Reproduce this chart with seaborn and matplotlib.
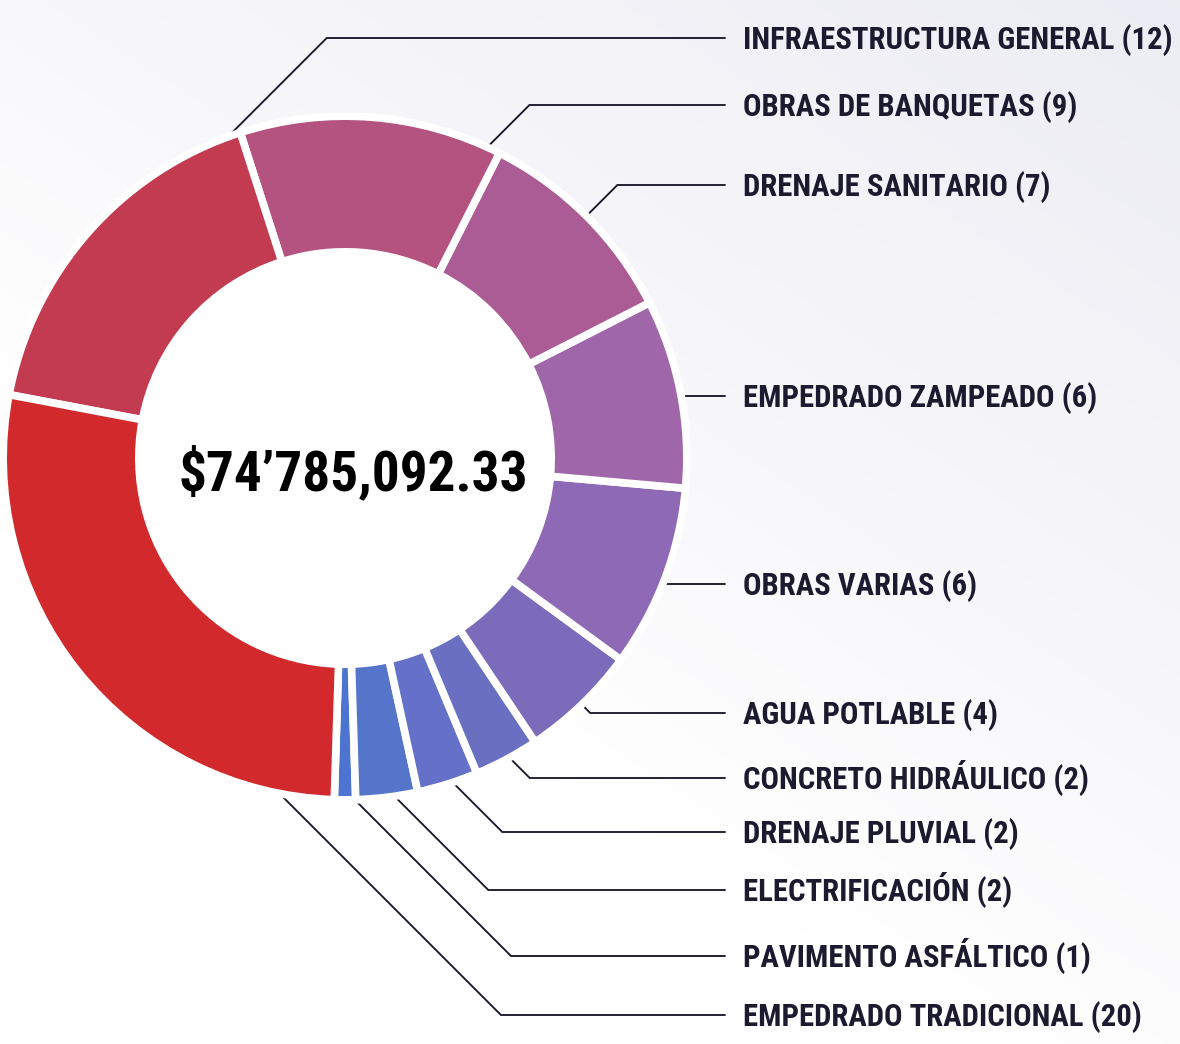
import numpy as np
import matplotlib
matplotlib.use("Agg")
import matplotlib.pyplot as plt
from matplotlib.colors import LinearSegmentedColormap
import seaborn as sns

# ---------------- data ----------------
categories = ["PAVIMENTO ASFÁLTICO", "ELECTRIFICACIÓN", "DRENAJE PLUVIAL",
              "CONCRETO HIDRÁULICO", "AGUA POTLABLE", "OBRAS VARIAS",
              "EMPEDRADO ZAMPEADO", "DRENAJE SANITARIO", "OBRAS DE BANQUETAS",
              "INFRAESTRUCTURA GENERAL", "EMPEDRADO TRADICIONAL"]
obras = [1, 2, 2, 2, 4, 6, 6, 7, 9, 12, 20]
share_pct = [1.0, 2.92, 2.89, 3.08, 5.56, 8.64, 8.92, 10.03, 12.42, 17.08, 27.47]
slice_colors = ["#4d74d0", "#5475c9", "#6570c8", "#6a6fc2", "#7a6bbb", "#8e69b5",
                "#a066aa", "#ac5c95", "#b45280", "#c33b50", "#d2292c"]
total_label = "$74\u2019785,092.33"

# ---------------- layout / style ----------------
W, H = 1180, 1044
sns.set_style("white")
FAMILY = ["Roboto Condensed", "Open Sans Condensed", "Liberation Sans Narrow",
          "DejaVu Sans Condensed", "DejaVu Sans"]
plt.rcParams["font.family"] = FAMILY
TXT = "#1b1a2e"

cx, cy = 345, H - 458
R_out, R_in = 338, 210
gap_pt = 5.5
hg = gap_pt * 100 / 72 / 2
start_deg = -91.8
anchor_frac = [0.5, 0.5, 0.5, 0.5, 0.5, 0.5, 0.5, 0.5, 0.065, 0.1, 0.88]
label_y_px = [956, 890, 832, 778, 713, 584, 396, 185, 105, 38, 1015]
line_end_x = 725
text_x = 743

fig = plt.figure(figsize=(W / 100, H / 100), dpi=100)
ax = fig.add_axes([0, 0, 1, 1])

# faint background wash (light lavender toward the lower right)
gx, gy = np.meshgrid(np.linspace(0, 1, 200), np.linspace(0, 1, 200))
wash = np.clip(0.55 * gx + 0.75 * gy - 0.45, 0, 1)
bg_cmap = LinearSegmentedColormap.from_list("bg", ["#ffffff", "#e9e9f2"])
ax.imshow(wash, cmap=bg_cmap, extent=(0, W, H, 0), origin="upper",
          aspect="auto", zorder=0, vmin=0, vmax=1, interpolation="bilinear")

wedges, _ = ax.pie(share_pct, colors=slice_colors, startangle=start_deg,
                   counterclock=True, radius=R_out + hg, center=(cx, cy),
                   wedgeprops=dict(width=R_out - R_in + 2 * hg,
                                   edgecolor="white", linewidth=gap_pt, zorder=2))
# white centre
ax.add_patch(plt.Circle((cx, cy), R_in, color="white", zorder=1.5))
ax.set_xlim(0, W)
ax.set_ylim(0, H)
ax.set_aspect("equal")
ax.axis("off")

fig.canvas.draw()
renderer = fig.canvas.get_renderer()

# fit label font size to reference width of the longest label
probe = ax.text(0, 0, "INFRAESTRUCTURA GENERAL (12)", fontsize=40, fontweight="bold")
wpx = probe.get_window_extent(renderer).width
probe.remove()
fs = 40 * 429 / wpx

for w, cat, n, f, ly in zip(wedges, categories, obras, anchor_frac, label_y_px):
    ang = np.deg2rad(w.theta1 + f * (w.theta2 - w.theta1))
    r = R_out - 6
    axp, ayp = cx + r * np.cos(ang), cy + r * np.sin(ang)
    Y = H - ly
    ex = axp + abs(Y - ayp)
    ax.plot([axp, ex, line_end_x], [ayp, Y, Y], color=TXT, lw=1.35, zorder=1,
            solid_joinstyle="miter")
    ax.text(text_x, Y - fs * 100 / 72 * 0.36, f"{cat} ({n})", fontsize=fs,
            fontweight="bold", color=TXT, ha="left", va="baseline", zorder=3)

# centre total
probe = ax.text(0, 0, total_label, fontsize=60, fontweight="bold")
wpx = probe.get_window_extent(renderer).width
probe.remove()
fs_c = 60 * 350 / wpx
ax.text(353, H - 490, total_label, fontsize=fs_c, fontweight="bold",
        color="black", ha="center", va="baseline", zorder=3)

fig.savefig("out.png", dpi=100, facecolor="white")
